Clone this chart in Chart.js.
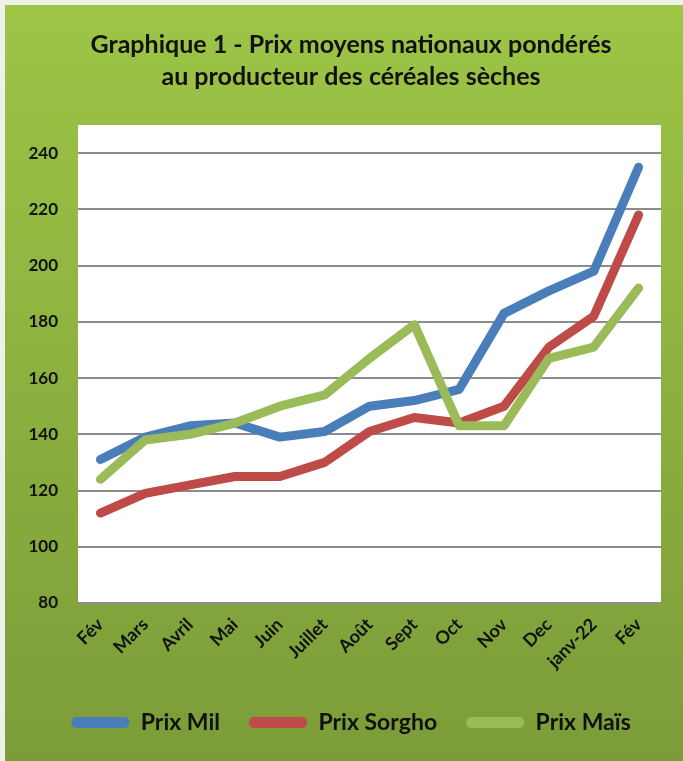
<!DOCTYPE html>
<html>
<head>
<meta charset="utf-8">
<script src="https://cdn.jsdelivr.net/npm/chart.js@4/dist/chart.umd.min.js"></script>
<style>
  body { margin: 0; background: #eef0ea; }
  #wrap { position: absolute; left: 5px; top: 5px; width: 678px; height: 756px;
          background: linear-gradient(#9dc546, #7c9c39); }
</style>
</head>
<body>
<div id="wrap"><canvas id="graphique"></canvas></div>
<script>
const mois = ['Fév', 'Mars', 'Avril', 'Mai', 'Juin', 'Juillet', 'Août', 'Sept', 'Oct', 'Nov', 'Dec', 'janv-22', 'Fév'];

const prixMil = [131, 139, 143, 144, 139, 141, 150, 152, 156, 183, 191, 198, 235];
const prixSorgho = [112, 119, 122, 125, 125, 130, 141, 146, 144, 150, 171, 182, 218];
const prixMais = [124, 138, 140, 144, 150, 154, 167, 179, 143, 143, 167, 171, 192];

const graduations = [80, 100, 120, 140, 160, 180, 200, 220, 240];

const fond = {
    id: 'fond',
    beforeDraw(chart) {
        const a = chart.chartArea;
        chart.ctx.save();
        chart.ctx.fillStyle = '#ffffff';
        chart.ctx.fillRect(a.left, a.top, a.right - a.left, a.bottom - a.top);
        chart.ctx.restore();
    }
};

const ctx = document.getElementById('graphique');

new Chart(ctx, {
    type: 'line',

    data: {
        labels: mois,

        datasets: [{
            label: 'Prix Mil',
            data: prixMil,
            borderColor: '#4a7ebb',
            backgroundColor: '#4a7ebb',
            order: 2
        }, {
            label: 'Prix Sorgho',
            data: prixSorgho,
            borderColor: '#be4b48',
            backgroundColor: '#be4b48',
            order: 1
        }, {
            label: 'Prix Maïs',
            data: prixMais,
            borderColor: '#9bbb59',
            backgroundColor: '#9bbb59',
            order: 0
        }]
    },

    options: {
        responsive: true,
        maintainAspectRatio: false,
        animation: false,

        elements: {
            line: { borderWidth: 9, tension: 0, borderCapStyle: 'round', borderJoinStyle: 'round' },
            point: { radius: 0 }
        },

        layout: {
            padding: { left: 14, right: 0, top: 0, bottom: 17 }
        },

        plugins: {
            title: {
                display: true,
                text: ['Graphique 1 - Prix moyens nationaux pondérés', 'au producteur des céréales sèches'],
                color: '#111',
                font: { family: 'Lato', size: 25, weight: 'bold', lineHeight: 1.28 },
                padding: { top: 24, bottom: 32 }
            },
            legend: {
                position: 'bottom',
                labels: {
                    color: '#111',
                    font: { family: 'Lato', size: 23, weight: 'bold' },
                    boxWidth: 58,
                    boxHeight: 11,
                    padding: 29,
                    sort: (a, b) => a.datasetIndex - b.datasetIndex,
                    generateLabels(chart) {
                        return Chart.defaults.plugins.legend.labels.generateLabels(chart).map(l => {
                            l.lineWidth = 0;
                            l.borderRadius = 5;
                            return l;
                        });
                    }
                }
            },
            tooltip: { enabled: false }
        },

        scales: {
            x: {
                offset: true,
                grid: { display: false, drawTicks: false },
                border: { color: '#8c8c8c', width: 2 },
                ticks: {
                    color: '#111',
                    font: { family: 'Lato', size: 18, weight: 'bold' },
                    minRotation: 45,
                    maxRotation: 45,
                    padding: 11,
                    autoSkip: false
                },
                afterFit(scale) { scale.height = 79; }
            },
            y: {
                min: 80,
                max: 250,
                afterBuildTicks(scale) {
                    scale.ticks = graduations.map(v => ({ value: v }));
                },
                grid: { color: '#8c8c8c', lineWidth: 2, drawTicks: false },
                border: { display: false },
                ticks: {
                    color: '#111',
                    font: { family: 'Lato', size: 17, weight: 'bold' },
                    padding: 20
                },
                afterFit(scale) { scale.width = 59; }
            },
            marge: {
                type: 'linear',
                position: 'right',
                grid: { display: false, drawTicks: false },
                border: { display: false },
                ticks: { display: false },
                afterFit(scale) { scale.width = 22; }
            }
        }
    },

    plugins: [fond]
});
</script>
</body>
</html>
